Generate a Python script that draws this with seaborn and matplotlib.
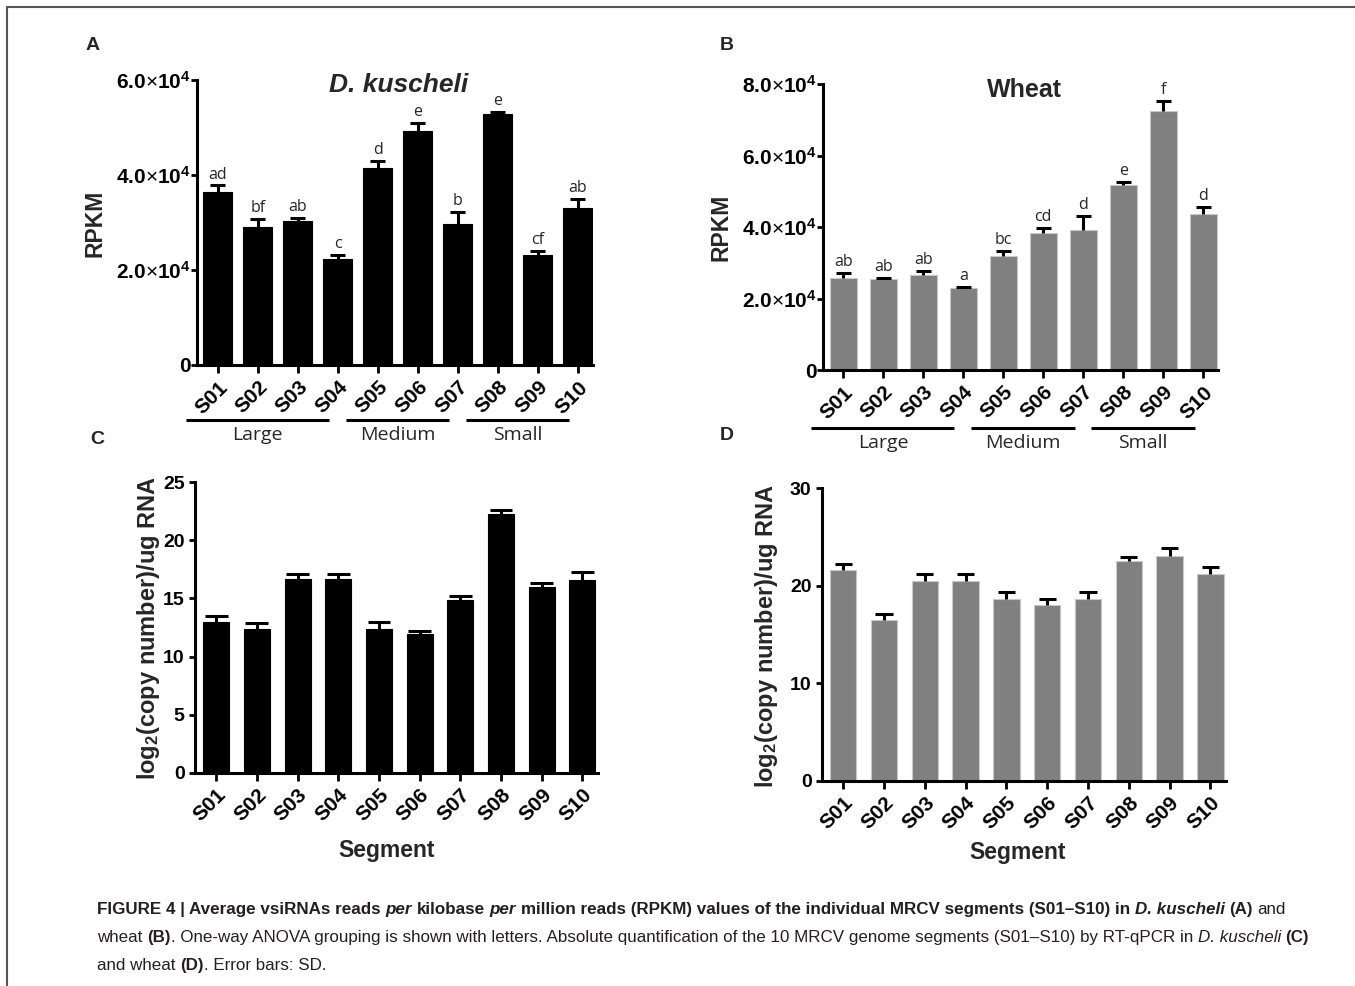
import matplotlib
matplotlib.use("Agg")
import matplotlib.pyplot as plt
import matplotlib.font_manager as fm
import matplotlib.transforms as mtransforms
from matplotlib.lines import Line2D
import numpy as np
import pandas as pd
import seaborn as sns

# segments and size classes
segments = ["S01", "S02", "S03", "S04", "S05", "S06", "S07", "S08", "S09", "S10"]
size_groups = ["Large", "Medium", "Small"]
group_first = [0, 4, 7]
group_last = [3, 6, 9]

# A - RPKM in D. kuscheli
rpkm_dk = [36500, 29000, 30400, 22300, 41500, 49300, 29600, 52900, 23200, 33100]
rpkm_dk_sd = [1300, 1700, 500, 800, 1500, 1600, 2700, 400, 900, 1900]
rpkm_dk_letters = ["ad", "bf", "ab", "c", "d", "e", "b", "e", "cf", "ab"]

# B - RPKM in wheat
rpkm_wh = [25700, 25400, 26700, 22900, 31800, 38300, 39300, 51800, 72400, 43600]
rpkm_wh_sd = [1600, 400, 1100, 400, 1500, 1500, 3900, 900, 2800, 2100]
rpkm_wh_letters = ["ab", "ab", "ab", "a", "bc", "cd", "d", "e", "f", "d"]

# C / D - RT-qPCR log2(copy number)/ug RNA
qpcr_dk = [13.0, 12.4, 16.7, 16.7, 12.4, 11.9, 14.85, 22.3, 16.0, 16.6]
qpcr_dk_sd = [0.45, 0.45, 0.43, 0.43, 0.55, 0.32, 0.40, 0.32, 0.37, 0.64]
qpcr_wh = [21.6, 16.5, 20.5, 20.5, 18.65, 18.0, 18.6, 22.5, 23.1, 21.2]
qpcr_wh_sd = [0.65, 0.62, 0.68, 0.68, 0.72, 0.68, 0.75, 0.48, 0.82, 0.75]

rpkm_dk_ticks = [0, 20000, 40000, 60000]
rpkm_wh_ticks = [0, 20000, 40000, 60000, 80000]
qpcr_dk_ticks = [0, 5, 10, 15, 20, 25]
qpcr_wh_ticks = [0, 10, 20, 30]

sns.set_theme(style="ticks")
plt.rcParams['font.family'] = ['Liberation Sans', 'DejaVu Sans']
plt.rcParams['mathtext.fontset'] = 'custom'
plt.rcParams['mathtext.rm'] = 'Liberation Sans'
plt.rcParams['mathtext.bf'] = 'Liberation Sans:bold'
plt.rcParams['mathtext.it'] = 'Liberation Sans:italic'

W, H = 1355, 986
fig = plt.figure(figsize=(W / 100, H / 100), dpi=100)
fig.patch.set_facecolor("white")
GRAY = "#808080"


def px_axes(left, top, width, height):
    return fig.add_axes([left / W, 1 - (top + height) / H, width / W, height / H])


def rpkm_label(v):
    if v == 0:
        return "0"
    return "$\\mathbf{%.1f}{\\times}\\mathbf{10}^{\\mathbf{4}}$" % (v / 10000)


def panel(ax, vals, sd, color, bar_w, cap_hw, ticks, ticklabels, ypad, ysize):
    df = pd.DataFrame({"segment": segments, "value": vals})
    edge = "#c8c8c8" if color != "black" else "black"
    sns.barplot(data=df, x="segment", y="value", color=color, width=bar_w,
                saturation=1, errorbar=None, ax=ax, edgecolor=edge, linewidth=0.8)
    x = np.arange(len(segments))
    vals = np.array(vals)
    top = vals + np.array(sd)
    ax.vlines(x, vals, top, color="black", lw=2.2, zorder=4)
    ax.hlines(top, x - cap_hw, x + cap_hw, color="black", lw=2.2, zorder=4)
    ax.set_xlim(-0.52, 9.37)
    ax.set_ylim(0, ticks[-1])
    ax.set_yticks(ticks)
    ax.set_yticklabels(ticklabels, fontsize=ysize, fontweight="bold")
    ax.set_xticks(x)
    ax.set_xticklabels(segments, rotation=45, ha="right", va="top",
                       rotation_mode="anchor", fontsize=15, fontweight="bold")
    shift = mtransforms.ScaledTranslation(4 / 100, 0, fig.dpi_scale_trans)
    for lab in ax.get_xticklabels():
        lab.set_transform(lab.get_transform() + shift)
    ax.set_xlabel("")
    ax.set_ylabel("")
    sns.despine(ax=ax)
    for s in ["left", "bottom"]:
        ax.spines[s].set_linewidth(2.2)
        ax.spines[s].set_color("black")
    ax.tick_params(axis="x", length=6, width=2, pad=3, colors="black")
    ax.tick_params(axis="y", length=4, width=2, pad=ypad, colors="black")
    ax.set_facecolor("white")
    return top


def letters(ax, top, labs):
    for i, (t, lab) in enumerate(zip(top, labs)):
        ax.annotate(lab, (i, t), xytext=(0, 5), textcoords="offset points",
                    ha="center", va="baseline", fontsize=11.5, family="Open Sans")


def groups(ax, yline, ylab):
    tr = ax.get_xaxis_transform()
    for name, a, b in zip(size_groups, group_first, group_last):
        x0, x1 = a - 0.8, b - 0.22
        ax.plot([x0, x1], [yline, yline], color="black", lw=2.2,
                transform=tr, clip_on=False, solid_capstyle="butt")
        ax.text((x0 + x1) / 2, ylab, name, transform=tr, ha="center", va="center",
                fontsize=14, family="Open Sans")


def ftext(x, y, s, **kw):
    fig.text(x / W, 1 - y / H, s, **kw)


# A
axA = px_axes(197, 80, 395.6, 285)
topA = panel(axA, rpkm_dk, rpkm_dk_sd, "black", 0.72, 0.19, rpkm_dk_ticks,
             [rpkm_label(v) for v in rpkm_dk_ticks], 0.5, 15)
letters(axA, topA, rpkm_dk_letters)
groups(axA, -55 / 285, -70 / 285)

# B
axB = px_axes(822.5, 84.3, 395.6, 285.7)
topB = panel(axB, rpkm_wh, rpkm_wh_sd, GRAY, 0.67, 0.19, rpkm_wh_ticks,
             [rpkm_label(v) for v in rpkm_wh_ticks], 0.5, 15)
letters(axB, topB, rpkm_wh_letters)
groups(axB, -58 / 285.7, -73 / 285.7)

# C
axC = px_axes(195, 482.3, 402.5, 290.4)
panel(axC, qpcr_dk, qpcr_dk_sd, "black", 0.64, 0.28, qpcr_dk_ticks,
      [str(v) for v in qpcr_dk_ticks], 3.5, 14)

# D
axD = px_axes(822, 488.3, 403.5, 292.4)
panel(axD, qpcr_wh, qpcr_wh_sd, GRAY, 0.65, 0.21, qpcr_wh_ticks,
      [str(v) for v in qpcr_wh_ticks], 3.5, 14)

# titles, axis labels, panel letters
ftext(399, 85, "D. kuscheli", ha="center", va="center", fontsize=19,
      fontweight="bold", fontstyle="italic")
ftext(1024, 90, "Wheat", ha="center", va="center", fontsize=18, fontweight="bold")
ftext(95, 223, "RPKM", ha="center", va="center", rotation=90, fontsize=16.5, fontweight="bold")
ftext(721, 227, "RPKM", ha="center", va="center", rotation=90, fontsize=16.5, fontweight="bold")
ylab_q = "log$_{\\mathbf{2}}$(copy number)/ug RNA"
ftext(149, 628, ylab_q, ha="center", va="center", rotation=90, fontsize=17, fontweight="bold")
ftext(767, 636, ylab_q, ha="center", va="center", rotation=90, fontsize=17, fontweight="bold")
ftext(387, 850, "Segment", ha="center", va="center", fontsize=16.5, fontweight="bold")
ftext(1018, 853, "Segment", ha="center", va="center", fontsize=16.5, fontweight="bold")
for lab, x, y in [("A", 93, 45), ("B", 727, 45), ("C", 97, 440), ("D", 727, 436)]:
    ftext(x, y, lab, ha="center", va="center", fontsize=14, fontweight="bold")

# frame lines (top and left)
fig.add_artist(Line2D([7 / W, 1], [1 - 7 / H, 1 - 7 / H], transform=fig.transFigure,
                      color="#555555", lw=1.5))
fig.add_artist(Line2D([7 / W, 7 / W], [1 - 7 / H, 0], transform=fig.transFigure,
                      color="#555555", lw=1.5))

# caption, written run by run
names = set(fm.fontManager.get_font_names())
cap_family = "Liberation Sans Narrow" if "Liberation Sans Narrow" in names else "Liberation Sans"
renderer = fig.canvas.get_renderer()
STY = {"b": dict(fontweight="bold"), "bi": dict(fontweight="bold", fontstyle="italic"),
       "n": dict(), "i": dict(fontstyle="italic")}
cap_lines = [
    [("FIGURE 4 | Average vsiRNAs reads ", "b"), ("per", "bi"), (" kilobase ", "b"),
     ("per", "bi"), (" million reads (RPKM) values of the individual MRCV segments (S01–S10) in ", "b"),
     ("D. kuscheli", "bi"), (" (A)", "b"), (" and", "n")],
    [("wheat ", "n"), ("(B)", "b"),
     (". One-way ANOVA grouping is shown with letters. Absolute quantification of the 10 MRCV genome segments (S01–S10) by RT-qPCR in ", "n"),
     ("D. kuscheli", "i"), (" ", "n"), ("(C)", "b")],
    [("and wheat ", "n"), ("(D)", "b"), (". Error bars: SD.", "n")],
]


def text_w(s, size, sty):
    if not s:
        return 0.0
    t = fig.text(0, 0, s, fontsize=size, family=cap_family, **STY[sty])
    w = t.get_window_extent(renderer).width
    t.remove()
    return w


def space_w(size, sty):
    return text_w("a a", size, sty) - text_w("aa", size, sty)


def layout(runs, size, x0, y, draw):
    x = x0
    for s, sty in runs:
        core = s.strip(" ")
        sw = space_w(size, sty)
        if not core:
            x += len(s) * sw
            continue
        lead = len(s) - len(s.lstrip(" "))
        trail = len(s) - len(s.rstrip(" "))
        x += lead * sw
        if draw:
            fig.text(x / W, 1 - y / H, core, fontsize=size, family=cap_family,
                     color="#231f20", ha="left", va="baseline", **STY[sty])
        x += text_w(core, size, sty)
        x += trail * sw
    return x - x0


base = 10.0
w1 = layout(cap_lines[0], base, 97, 0, False)
cap_size = base * (1291 - 97) / w1
for runs, yb in zip(cap_lines, [914, 942, 970]):
    layout(runs, cap_size, 97, yb, True)

fig.savefig("out.png", dpi=100, facecolor="white")
